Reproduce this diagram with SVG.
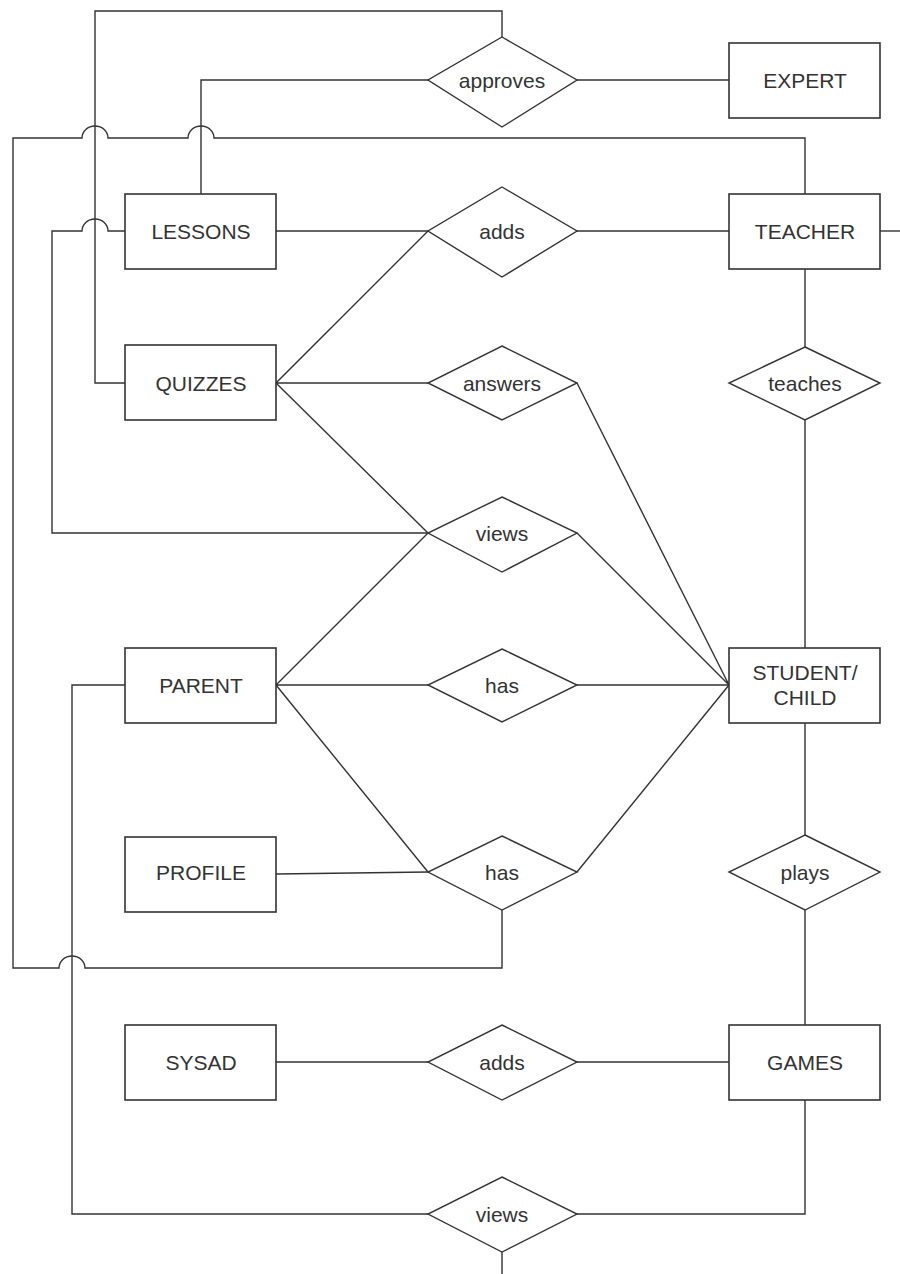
<svg xmlns="http://www.w3.org/2000/svg" width="900" height="1274" viewBox="0 0 900 1274">
<style>
.box{fill:#fff;stroke:#333;stroke-width:1.6}
.dia{fill:#fff;stroke:#333;stroke-width:1.4}
.ln{fill:none;stroke:#333;stroke-width:1.4}
text{font-family:"Liberation Sans",Arial,sans-serif;font-size:21px;fill:#333;text-anchor:middle;dominant-baseline:central}
</style>
<rect width="900" height="1274" fill="#fff"/>
<g id="connectors">
<path class="ln" d="M502,37 V11 H95 V383 H125"/>
<path class="ln" d="M428,80 H201 V194"/>
<path class="ln" d="M805,194 V138 H214 A13,12 0 0 0 188,138 H108 A13,12 0 0 0 82,138 H13 V968 H59 A13,12 0 0 1 85,968 H502 V910"/>
<path class="ln" d="M125,231 H108 A13,12 0 0 0 82,231 H52 V533 H428"/>
<path class="ln" d="M125,685 H72 V1214 H428"/>
<path class="ln" d="M577,1214 H805 V1100"/>
<path class="ln" d="M502,1252 V1274"/>
<path class="ln" d="M880,231 H900"/>
<path class="ln" d="M276,231 H428 M577,231 H729"/>
<path class="ln" d="M577,80 H729"/>
<path class="ln" d="M276,383 L428,231 M276,383 H428 M276,383 L428,533"/>
<path class="ln" d="M577,383 L729,685 M577,533 L729,685"/>
<path class="ln" d="M276,685 L428,533 M276,685 H428 M276,685 L428,872"/>
<path class="ln" d="M577,685 H729 M577,872 L729,685"/>
<path class="ln" d="M276,874 L428,872"/>
<path class="ln" d="M805,269 V347 M805,420 V648"/>
<path class="ln" d="M805,723 V835 M805,910 V1025"/>
<path class="ln" d="M276,1062 H428 M577,1062 H729"/>
</g>
<g id="EXPERT"><rect class="box" x="729" y="43" width="151" height="75"/><text x="805" y="80">EXPERT</text></g>
<g id="LESSONS"><rect class="box" x="125" y="194" width="151" height="75"/><text x="201" y="231">LESSONS</text></g>
<g id="TEACHER"><rect class="box" x="729" y="194" width="151" height="75"/><text x="805" y="231">TEACHER</text></g>
<g id="QUIZZES"><rect class="box" x="125" y="345" width="151" height="75"/><text x="201" y="383">QUIZZES</text></g>
<g id="PARENT"><rect class="box" x="125" y="648" width="151" height="75"/><text x="201" y="685">PARENT</text></g>
<g id="STUDENT"><rect class="box" x="729" y="648" width="151" height="75"/><text x="805" y="672">STUDENT/</text><text x="805" y="697">CHILD</text></g>
<g id="PROFILE"><rect class="box" x="125" y="837" width="151" height="75"/><text x="201" y="872">PROFILE</text></g>
<g id="SYSAD"><rect class="box" x="125" y="1025" width="151" height="75"/><text x="201" y="1062">SYSAD</text></g>
<g id="GAMES"><rect class="box" x="729" y="1025" width="151" height="75"/><text x="805" y="1062">GAMES</text></g>
<g id="approves"><polygon class="dia" points="502,37 577,80 502,127 428,80"/><text x="502" y="80">approves</text></g>
<g id="adds1"><polygon class="dia" points="502,187 577,231 502,277 428,231"/><text x="502" y="231">adds</text></g>
<g id="answers"><polygon class="dia" points="502,346 577,383 502,420 428,383"/><text x="502" y="383">answers</text></g>
<g id="teaches"><polygon class="dia" points="805,347 880,383 805,420 729,383"/><text x="805" y="383">teaches</text></g>
<g id="views1"><polygon class="dia" points="502,497 577,533 502,572 428,533"/><text x="502" y="533">views</text></g>
<g id="has1"><polygon class="dia" points="502,649 577,685 502,722 428,685"/><text x="502" y="685">has</text></g>
<g id="has2"><polygon class="dia" points="502,836 577,872 502,910 428,872"/><text x="502" y="872">has</text></g>
<g id="plays"><polygon class="dia" points="805,835 880,872 805,910 729,872"/><text x="805" y="872">plays</text></g>
<g id="adds2"><polygon class="dia" points="502,1025 577,1062 502,1100 428,1062"/><text x="502" y="1062">adds</text></g>
<g id="views2"><polygon class="dia" points="502,1177 577,1214 502,1252 428,1214"/><text x="502" y="1214">views</text></g>
</svg>
